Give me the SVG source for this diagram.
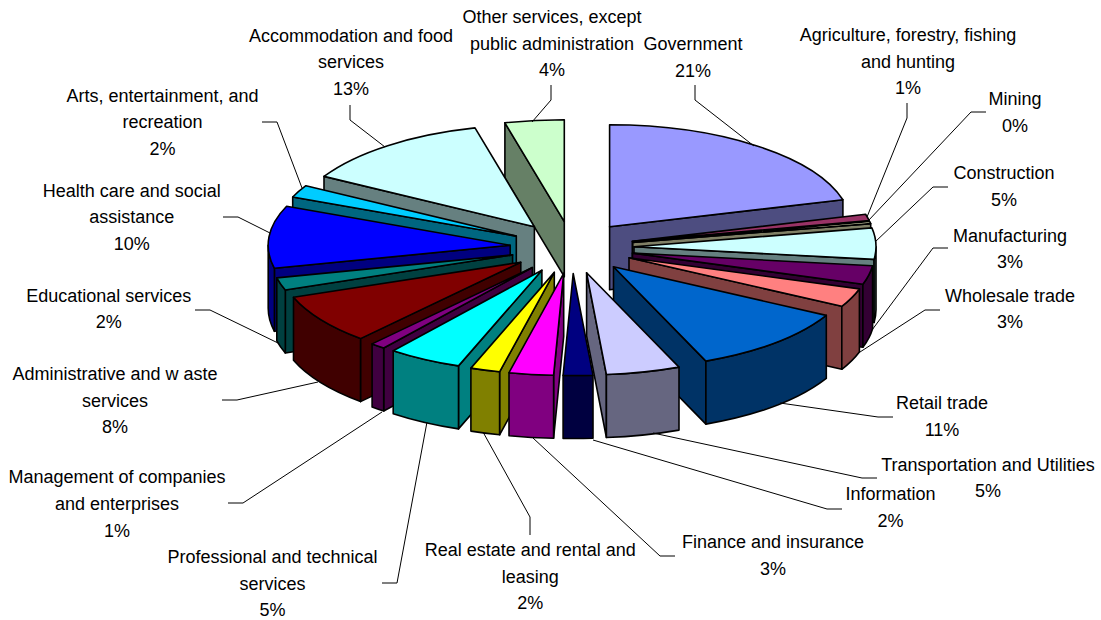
<svg xmlns="http://www.w3.org/2000/svg" width="1101" height="620" viewBox="0 0 1101 620">
<style>
.f{stroke:#000;stroke-width:1.6;stroke-linejoin:round}
.t{font-family:"Liberation Sans",Arial,sans-serif;font-size:18px;text-anchor:middle;fill:#000}
.ld{fill:none;stroke:#000;stroke-width:1}
</style>
<rect width="1101" height="620" fill="#fff"/>
<g id="other-services">
<path class="f" fill="#668066" d="M564.3,221.7 L504.9,122.8 L504.9,177.8 L564.3,276.7 Z"/>
<path class="f" fill="#CCFFCC" d="M564.3,221.7 L504.9,122.8 A242,102 0 0 1 564.3,119.7 Z"/>
<text class="t" x="552" y="23">Other services, except</text>
<text class="t" x="552" y="49.7">public administration</text>
<text class="t" x="552" y="76.3">4%</text>
</g>
<g id="government">
<path class="f" fill="#4D4D80" d="M609.6,226.8 L842.9,199.7 L842.9,262.7 L609.6,289.8 Z"/>
<path class="f" fill="#9999FF" d="M609.6,226.8 L609.6,124.8 A242,102 0 0 1 842.9,199.7 Z"/>
<text class="t" x="693" y="50">Government</text>
<text class="t" x="693" y="76.7">21%</text>
</g>
<g id="accommodation">
<path class="f" fill="#668080" d="M534.4,226.8 L324,176.4 L324,239.4 L534.4,289.8 Z"/>
<path class="f" fill="#CCFFFF" d="M534.4,226.8 L324,176.4 A242,102 0 0 1 475,127.9 Z"/>
<text class="t" x="351" y="41.7">Accommodation and food</text>
<text class="t" x="351" y="68.3">services</text>
<text class="t" x="351" y="95">13%</text>
</g>
<g id="arts">
<path class="f" fill="#006680" d="M516.3,236.1 L292.7,197 L292.7,260 L516.3,299.1 Z"/>
<path class="f" fill="#00CCFF" d="M516.3,236.1 L292.7,197 A242,102 0 0 1 305.9,185.7 Z"/>
<text class="t" x="162.5" y="101.7">Arts, entertainment, and</text>
<text class="t" x="162.5" y="128.3">recreation</text>
<text class="t" x="162.5" y="155">2%</text>
</g>
<g id="agriculture">
<path class="f" fill="#4D1A33" d="M632.3,241.4 L869.1,220.5 L869.1,283.5 L632.3,304.4 Z"/>
<path class="f" fill="#993366" d="M632.3,241.4 L865.6,214.3 A242,102 0 0 1 869.1,220.5 Z"/>
<text class="t" x="908" y="41">Agriculture, forestry, fishing</text>
<text class="t" x="908" y="67.7">and hunting</text>
<text class="t" x="908" y="94.3">1%</text>
</g>
<g id="mining">
<path class="f" fill="#808066" d="M632.8,242.4 L870.7,223.6 L870.7,286.6 L632.8,305.4 Z"/>
<path class="f" fill="#FFFFCC" d="M632.8,242.4 L869.6,221.5 A242,102 0 0 1 870.7,223.6 Z"/>
<text class="t" x="1015" y="105">Mining</text>
<text class="t" x="1015" y="131.7">0%</text>
</g>
<g id="health-care">
<path class="f" fill="#000080" d="M510.2,245.3 L274.4,268.3 L274.4,331.3 L510.2,308.3 Z"/>
<path class="f" fill="#000080" d="M274.4,268.3 A242,102 0 0 1 268.2,245.3 L268.2,308.3 A242,102 0 0 0 274.4,331.3 Z"/>
<path class="f" fill="#0000FF" d="M510.2,245.3 L274.4,268.3 A242,102 0 0 1 286.6,206.2 Z"/>
<text class="t" x="131.7" y="196.7">Health care and social</text>
<text class="t" x="131.7" y="223.3">assistance</text>
<text class="t" x="131.7" y="250">10%</text>
</g>
<g id="construction">
<path class="f" fill="#668080" d="M634,246.7 L874.1,259.4 L874.1,322.4 L634,309.7 Z"/>
<path class="f" fill="#668080" d="M876,246.7 A242,102 0 0 1 874.1,259.4 L874.1,322.4 A242,102 0 0 0 876,309.7 Z"/>
<path class="f" fill="#CCFFFF" d="M634,246.7 L871.9,227.9 A242,102 0 0 1 874.1,259.4 Z"/>
<text class="t" x="1004" y="179">Construction</text>
<text class="t" x="1004" y="205.7">5%</text>
</g>
<g id="manufacturing">
<path class="f" fill="#330033" d="M632.5,253.1 L862.9,284.3 L862.9,347.3 L632.5,316.1 Z"/>
<path class="f" fill="#330033" d="M872.6,265.8 A242,102 0 0 1 862.9,284.3 L862.9,347.3 A242,102 0 0 0 872.6,328.8 Z"/>
<path class="f" fill="#660066" d="M632.5,253.1 L872.6,265.8 A242,102 0 0 1 862.9,284.3 Z"/>
<text class="t" x="1010" y="241.7">Manufacturing</text>
<text class="t" x="1010" y="268.3">3%</text>
</g>
<g id="educational">
<path class="f" fill="#004040" d="M512.6,254.9 L285.3,290 L285.3,353 L512.6,317.9 Z"/>
<path class="f" fill="#004040" d="M285.3,290 A242,102 0 0 1 276.8,277.9 L276.8,340.9 A242,102 0 0 0 285.3,353 Z"/>
<path class="f" fill="#008080" d="M512.6,254.9 L285.3,290 A242,102 0 0 1 276.8,277.9 Z"/>
<text class="t" x="108.7" y="301.7">Educational services</text>
<text class="t" x="108.7" y="328.3">2%</text>
</g>
<g id="wholesale">
<path class="f" fill="#804040" d="M629,257.7 L841.8,306.3 L841.8,369.3 L629,320.7 Z"/>
<path class="f" fill="#804040" d="M859.4,288.9 A242,102 0 0 1 841.8,306.3 L841.8,369.3 A242,102 0 0 0 859.4,351.9 Z"/>
<path class="f" fill="#FF8080" d="M629,257.7 L859.4,288.9 A242,102 0 0 1 841.8,306.3 Z"/>
<text class="t" x="1010" y="301.7">Wholesale trade</text>
<text class="t" x="1010" y="328.3">3%</text>
</g>
<g id="administrative">
<path class="f" fill="#400000" d="M520.8,262.2 L360.5,338.6 L360.5,401.6 L520.8,325.2 Z"/>
<path class="f" fill="#400000" d="M360.5,338.6 A242,102 0 0 1 293.5,297.3 L293.5,360.3 A242,102 0 0 0 360.5,401.6 Z"/>
<path class="f" fill="#800000" d="M520.8,262.2 L360.5,338.6 A242,102 0 0 1 293.5,297.3 Z"/>
<text class="t" x="115" y="380">Administrative and w aste</text>
<text class="t" x="115" y="406.7">services</text>
<text class="t" x="115" y="433.3">8%</text>
</g>
<g id="retail">
<path class="f" fill="#003366" d="M613.5,266.8 L705.9,361.1 L705.9,424.1 L613.5,329.8 Z"/>
<path class="f" fill="#003366" d="M826.3,315.4 A242,102 0 0 1 705.9,361.1 L705.9,424.1 A242,102 0 0 0 826.3,378.4 Z"/>
<path class="f" fill="#0066CC" d="M613.5,266.8 L826.3,315.4 A242,102 0 0 1 705.9,361.1 Z"/>
<text class="t" x="942" y="409">Retail trade</text>
<text class="t" x="942" y="435.7">11%</text>
</g>
<g id="management">
<path class="f" fill="#400040" d="M532.4,267.5 L383.7,348 L383.7,411 L532.4,330.5 Z"/>
<path class="f" fill="#400040" d="M383.7,348 A242,102 0 0 1 372.1,343.9 L372.1,406.9 A242,102 0 0 0 383.7,411 Z"/>
<path class="f" fill="#800080" d="M532.4,267.5 L383.7,348 A242,102 0 0 1 372.1,343.9 Z"/>
<text class="t" x="117" y="483.3">Management of companies</text>
<text class="t" x="117" y="510">and enterprises</text>
<text class="t" x="117" y="536.7">1%</text>
</g>
<g id="professional">
<path class="f" fill="#008080" d="M541.9,270.2 L458.5,365.9 L458.5,428.9 L541.9,333.2 Z"/>
<path class="f" fill="#008080" d="M458.5,365.9 A242,102 0 0 1 393.2,350.7 L393.2,413.7 A242,102 0 0 0 458.5,428.9 Z"/>
<path class="f" fill="#00FFFF" d="M541.9,270.2 L458.5,365.9 A242,102 0 0 1 393.2,350.7 Z"/>
<text class="t" x="272.5" y="563">Professional and technical</text>
<text class="t" x="272.5" y="589.7">services</text>
<text class="t" x="272.5" y="616.3">5%</text>
</g>
<g id="real-estate">
<path class="f" fill="#808000" d="M554.3,272.4 L499.6,371.8 L499.6,434.8 L554.3,335.4 Z"/>
<path class="f" fill="#808000" d="M499.6,371.8 A242,102 0 0 1 470.9,368.1 L470.9,431.1 A242,102 0 0 0 499.6,434.8 Z"/>
<path class="f" fill="#FFFF00" d="M554.3,272.4 L499.6,371.8 A242,102 0 0 1 470.9,368.1 Z"/>
<text class="t" x="530.3" y="556">Real estate and rental and</text>
<text class="t" x="530.3" y="582.7">leasing</text>
<text class="t" x="530.3" y="609.3">2%</text>
</g>
<g id="transportation">
<path class="f" fill="#666680" d="M586.6,272.8 L606.4,374.5 L606.4,437.5 L586.6,335.8 Z"/>
<path class="f" fill="#666680" d="M679,367.1 A242,102 0 0 1 606.4,374.5 L606.4,437.5 A242,102 0 0 0 679,430.1 Z"/>
<path class="f" fill="#CCCCFF" d="M586.6,272.8 L679,367.1 A242,102 0 0 1 606.4,374.5 Z"/>
<text class="t" x="988" y="470.7">Transportation and Utilities</text>
<text class="t" x="988" y="497.3">5%</text>
</g>
<g id="finance">
<path class="f" fill="#800080" d="M563.7,273.3 L553.6,375.2 L553.6,438.2 L563.7,336.3 Z"/>
<path class="f" fill="#800080" d="M553.6,375.2 A242,102 0 0 1 509,372.7 L509,435.7 A242,102 0 0 0 553.6,438.2 Z"/>
<path class="f" fill="#FF00FF" d="M563.7,273.3 L553.6,375.2 A242,102 0 0 1 509,372.7 Z"/>
<text class="t" x="773" y="548.3">Finance and insurance</text>
<text class="t" x="773" y="575">3%</text>
</g>
<g id="information">
<path class="f" fill="#000040" d="M593,375.2 A242,102 0 0 1 563.1,375.4 L563.1,438.4 A242,102 0 0 0 593,438.2 Z"/>
<path class="f" fill="#000080" d="M573.2,273.5 L593,375.2 A242,102 0 0 1 563.1,375.4 Z"/>
<text class="t" x="890.5" y="500">Information</text>
<text class="t" x="890.5" y="526.7">2%</text>
</g>
<g id="connectors">
<polyline class="ld" points="551,85 551,100 532,122"/>
<polyline class="ld" points="695,85 695,100 754,146"/>
<polyline class="ld" points="350,105 350,120 385,147"/>
<polyline class="ld" points="262,122 277,122 302,188"/>
<polyline class="ld" points="223,217 238,217 270,233"/>
<polyline class="ld" points="195,310 210,310 278,343"/>
<polyline class="ld" points="222,400 237,400 318,382"/>
<polyline class="ld" points="228,503 243,503 382,412"/>
<polyline class="ld" points="382,583 397,583 427,422"/>
<polyline class="ld" points="530,535 530,517 483,432"/>
<polyline class="ld" points="675,556 660,556 533,438"/>
<polyline class="ld" points="842,509 827,509 593,440"/>
<polyline class="ld" points="877,478 862,478 653,433"/>
<polyline class="ld" points="893,417 878,417 780,403"/>
<polyline class="ld" points="940,310 925,310 860,352"/>
<polyline class="ld" points="948,248 933,248 872,330"/>
<polyline class="ld" points="948,187 933,187 875,242"/>
<polyline class="ld" points="986,112 971,112 868,221"/>
<polyline class="ld" points="907,103 907,118 867,217"/>
</g>
</svg>
